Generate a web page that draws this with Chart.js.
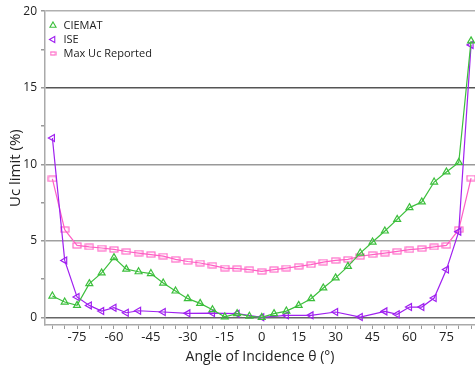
<!DOCTYPE html>
<html>
<head>
<meta charset="utf-8">
<script src="https://cdn.jsdelivr.net/npm/chart.js@4.4.0/dist/chart.umd.min.js"></script>
<style>
  html, body { margin: 0; padding: 0; background: #fff; }
  #wrap { width: 475px; height: 365px; }
</style>
</head>
<body>
<div id="wrap"><canvas id="myChart"></canvas></div>
<script>
// angles for CIEMAT and Max Uc (every 5 deg)
var angles = [-85, -80, -75, -70, -65, -60, -55, -50, -45, -40, -35, -30, -25, -20, -15, -10, -5, 0,
  5, 10, 15, 20, 25, 30, 35, 40, 45, 50, 55, 60, 65, 70, 75, 80, 85];
var ciemat = [1.39, 1.0, 0.78, 2.2, 2.9, 3.9, 3.15, 2.98, 2.86, 2.24, 1.72, 1.22, 0.91, 0.5, 0.03, 0.24, 0.07, 0.0,
  0.24, 0.41, 0.78, 1.22, 1.92, 2.58, 3.33, 4.2, 4.92, 5.64, 6.4, 7.17, 7.54, 8.84, 9.5, 10.12, 18.06];
var maxUc = [9.05, 5.73, 4.7, 4.6, 4.53, 4.44, 4.3, 4.2, 4.1, 4.0, 3.79, 3.65, 3.55, 3.4, 3.22, 3.18, 3.12, 3.0,
  3.12, 3.22, 3.33, 3.44, 3.61, 3.72, 3.79, 3.99, 4.1, 4.2, 4.31, 4.42, 4.49, 4.6, 4.7, 5.73, 9.1];
// ISE was measured at fewer angles
var iseAngles = [-85, -80, -75, -70, -65, -60, -55, -50, -40, -30, -20, -10, 0, 10, 20, 30, 40, 50, 55, 60, 65, 70, 75, 80, 85];
var ise = [11.72, 3.72, 1.33, 0.78, 0.41, 0.63, 0.3, 0.43, 0.35, 0.26, 0.28, 0.24, 0.0, 0.13, 0.13, 0.35, 0.02, 0.39, 0.2, 0.67, 0.67, 1.26, 3.12, 5.6, 17.8];
var yTicks = [0, 2.5, 5, 7.5, 10, 12.5, 15, 17.5, 20];
var gridColors = {0: '#666', 5: '#a0a0a0', 10: '#999', 15: '#555', 20: '#b0b0b0'};

var green = '#3cbf3c', purple = '#a020f0', pink = '#ff5fc4';

function pts(xs, ys) {
  return xs.map(function (x, i) { return {x: x, y: ys[i]}; });
}

function rectCanvas(w, h) {
  var c = document.createElement('canvas');
  c.width = w + 2; c.height = h + 2;
  var g = c.getContext('2d');
  g.strokeStyle = pink;
  g.lineWidth = 1.1;
  g.strokeRect(1, 1, w, h);
  return c;
}
var rectMark = rectCanvas(8, 5);
var rectLegend = rectCanvas(5, 3);

var ctx = document.getElementById('myChart').getContext('2d');
var myChart = new Chart(ctx, {
  type: 'line',
  data: {
    datasets: [{
      label: 'CIEMAT',
      data: pts(angles, ciemat),
      borderColor: green,
      backgroundColor: 'rgba(255,255,255,0)',
      borderWidth: 1.2,
      pointStyle: 'triangle',
      pointRadius: 4,
      pointBorderWidth: 1.2,
      pointBackgroundColor: 'rgba(255,255,255,0)'
    }, {
      label: 'ISE',
      data: pts(iseAngles, ise),
      borderColor: purple,
      backgroundColor: 'rgba(255,255,255,0)',
      borderWidth: 1.2,
      pointStyle: 'triangle',
      rotation: -90,
      pointRadius: 4,
      pointBorderWidth: 1.2,
      pointBackgroundColor: 'rgba(255,255,255,0)'
    }, {
      label: 'Max Uc Reported',
      data: pts(angles, maxUc),
      borderColor: pink,
      backgroundColor: 'rgba(255,255,255,0)',
      borderWidth: 1.2,
      pointStyle: rectMark,
      pointRadius: 4
    }]
  },
  options: {
    responsive: true,
    maintainAspectRatio: false,
    animation: false,
    clip: false,
    layout: { autoPadding: false, padding: { left: 0, right: 0, top: 4, bottom: 0 } },
    plugins: {
      legend: {
        position: 'chartArea',
        align: 'start',
        title: { display: true, text: ' ', font: { size: 8, lineHeight: 1 }, padding: { top: 9, bottom: 0 } },
        labels: {
          usePointStyle: true,
          boxWidth: 10,
          boxHeight: 5,
          padding: 3,
          color: '#222',
          font: { family: 'Open Sans', size: 11 },
          generateLabels: function (chart) {
            var items = Chart.defaults.plugins.legend.labels.generateLabels(chart);
            items.forEach(function (it) {
              it.lineWidth = 1.1;
              if (it.datasetIndex === 2) it.pointStyle = rectLegend;
            });
            return items;
          }
        }
      },
      tooltip: { enabled: false }
    },
    scales: {
      x: {
        type: 'linear',
        min: -88,
        max: 86.6,
        afterBuildTicks: function (scale) {
          scale.ticks = angles.map(function (v) { return {value: v}; });
        },
        afterFit: function (scale) { scale.height = 40; },
        ticks: {
          autoSkip: false,
          maxRotation: 0,
          padding: 0,
          color: '#222',
          font: { family: 'Open Sans', size: 13 },
          callback: function (v) { return v % 15 === 0 ? String(v) : ''; }
        },
        grid: { drawOnChartArea: false, tickLength: 4, tickColor: '#999' },
        border: { color: '#aaa', width: 1.5 },
        title: {
          display: true,
          text: 'Angle of Incidence θ (°)',
          color: '#222',
          padding: { top: 0, bottom: 0 },
          font: { family: 'Open Sans', size: 14 }
        }
      },
      y: {
        min: -0.5,
        max: 20,
        afterBuildTicks: function (scale) {
          scale.ticks = yTicks.map(function (v) { return {value: v}; });
        },
        afterFit: function (scale) { scale.width = 45; },
        ticks: {
          autoSkip: false,
          padding: 4,
          color: '#222',
          font: { family: 'Open Sans', size: 12 },
          callback: function (v) { return v % 5 === 0 ? String(v) : ''; }
        },
        grid: {
          tickLength: 4,
          lineWidth: 1.5,
          color: function (c) {
            var v = c.tick ? c.tick.value : null;
            return gridColors[v] !== undefined ? gridColors[v] : 'rgba(0,0,0,0)';
          },
          tickColor: '#999'
        },
        border: { color: '#aaa', width: 1.5 },
        title: {
          display: true,
          text: 'Uc limit (%)',
          color: '#222',
          padding: { top: 7, bottom: 0 },
          font: { family: 'Open Sans', size: 15 }
        }
      }
    }
  }
});
</script>
</body>
</html>
